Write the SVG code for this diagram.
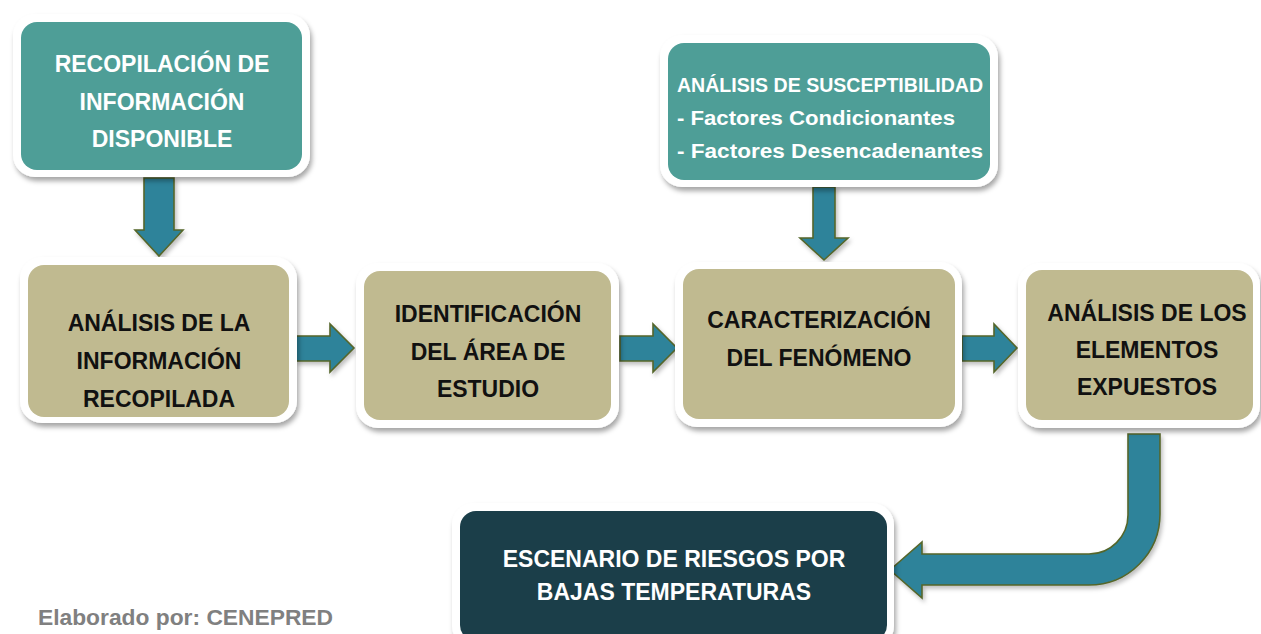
<svg xmlns="http://www.w3.org/2000/svg" width="1261" height="634" viewBox="0 0 1261 634">
<defs>
<filter id="sh" x="-10%" y="-10%" width="125%" height="130%">
<feDropShadow dx="2" dy="4" stdDeviation="2.5" flood-color="#000" flood-opacity="0.35"/>
</filter>
<filter id="ash" x="-10%" y="-10%" width="130%" height="130%">
<feDropShadow dx="2" dy="3" stdDeviation="2" flood-color="#000" flood-opacity="0.25"/>
</filter>
<style>
.frame{fill:#ffffff;filter:url(#sh);}
.teal{fill:#4E9E97;}
.tan{fill:#C0BA90;}
.dark{fill:#1B3E49;}
.arrow{fill:#2E839A;stroke:#55662A;stroke-width:1.6;stroke-linejoin:miter;filter:url(#ash);}
text{font-family:"Liberation Sans",Arial,sans-serif;font-weight:bold;}
.w{fill:#ffffff;font-size:23px;text-anchor:middle;}
.b{fill:#111111;font-size:23px;text-anchor:middle;}
.ws{fill:#ffffff;font-size:20.5px;}
.foot{fill:#808080;font-size:22px;}
</style>
</defs>
<rect width="1261" height="634" fill="#ffffff"/>

<g id="connectors">
<polygon class="arrow" points="144,178 174,178 174,230 183,230 159,256 135,230 144,230"/>
<polygon class="arrow" points="813,187 835,187 835,238 848,238 824,260 800,238 813,238"/>
<polygon class="arrow" points="296,336 330,336 330,324 354,348 330,372 330,361 296,361"/>
<polygon class="arrow" points="620,336 653,336 653,324 677,348 653,372 653,361 620,361"/>
<polygon class="arrow" points="962,336 994,336 994,324 1017,348 994,372 994,361 962,361"/>
<path class="arrow" d="M1128,434 L1160,434 L1160,514 A71 71 0 0 1 1089,585 L922,585 L922,598 L890,570 L922,542 L922,554 L1089,554 A39 39 0 0 0 1128,515 Z"/>
</g>

<g id="n-recopilacion">
<rect class="frame" x="13" y="14" width="297" height="163" rx="22"/>
<rect class="teal" x="21" y="22" width="281" height="148" rx="16"/>
<text class="w" x="162" y="72">RECOPILACIÓN DE</text>
<text class="w" x="162" y="110">INFORMACIÓN</text>
<text class="w" x="162" y="147">DISPONIBLE</text>
</g>

<g id="n-analisis-info">
<rect class="frame" x="20" y="257" width="277" height="166" rx="22"/>
<rect class="tan" x="28" y="265" width="261" height="152" rx="16"/>
<text class="b" x="159" y="331">ANÁLISIS DE LA</text>
<text class="b" x="159" y="369">INFORMACIÓN</text>
<text class="b" x="159" y="407">RECOPILADA</text>
</g>

<g id="n-identificacion">
<rect class="frame" x="356" y="263" width="263" height="165" rx="22"/>
<rect class="tan" x="364" y="271" width="247" height="149" rx="16"/>
<text class="b" x="488" y="322">IDENTIFICACIÓN</text>
<text class="b" x="488" y="360">DEL ÁREA DE</text>
<text class="b" x="488" y="397">ESTUDIO</text>
</g>

<g id="n-caracterizacion">
<rect class="frame" x="675" y="262" width="287" height="165" rx="22"/>
<rect class="tan" x="683" y="269" width="272" height="150" rx="16"/>
<text class="b" x="819" y="328">CARACTERIZACIÓN</text>
<text class="b" x="819" y="366">DEL FENÓMENO</text>
</g>

<g id="n-elementos">
<rect class="frame" x="1018" y="263" width="242" height="165" rx="22"/>
<rect class="tan" x="1026" y="270" width="227" height="150" rx="16"/>
<text class="b" x="1147" y="321">ANÁLISIS DE LOS</text>
<text class="b" x="1147" y="358">ELEMENTOS</text>
<text class="b" x="1147" y="395">EXPUESTOS</text>
</g>

<g id="n-susceptibilidad">
<rect class="frame" x="660" y="35" width="338" height="152" rx="22"/>
<rect class="teal" x="668" y="43" width="322" height="137" rx="16"/>
<text class="ws" x="677" y="92" textLength="306" lengthAdjust="spacingAndGlyphs">ANÁLISIS DE SUSCEPTIBILIDAD</text>
<text class="ws" x="677" y="125" textLength="278" lengthAdjust="spacingAndGlyphs">- Factores Condicionantes</text>
<text class="ws" x="677" y="158" textLength="306" lengthAdjust="spacingAndGlyphs">- Factores Desencadenantes</text>
</g>

<g id="n-escenario">
<rect class="frame" x="452" y="503" width="442" height="145" rx="22"/>
<rect class="dark" x="460" y="511" width="427" height="130" rx="16"/>
<text class="w" x="674" y="567">ESCENARIO DE RIESGOS POR</text>
<text class="w" x="674" y="600">BAJAS TEMPERATURAS</text>
</g>

<text id="footer" class="foot" x="38" y="625" textLength="295" lengthAdjust="spacingAndGlyphs">Elaborado por: CENEPRED</text>
</svg>
